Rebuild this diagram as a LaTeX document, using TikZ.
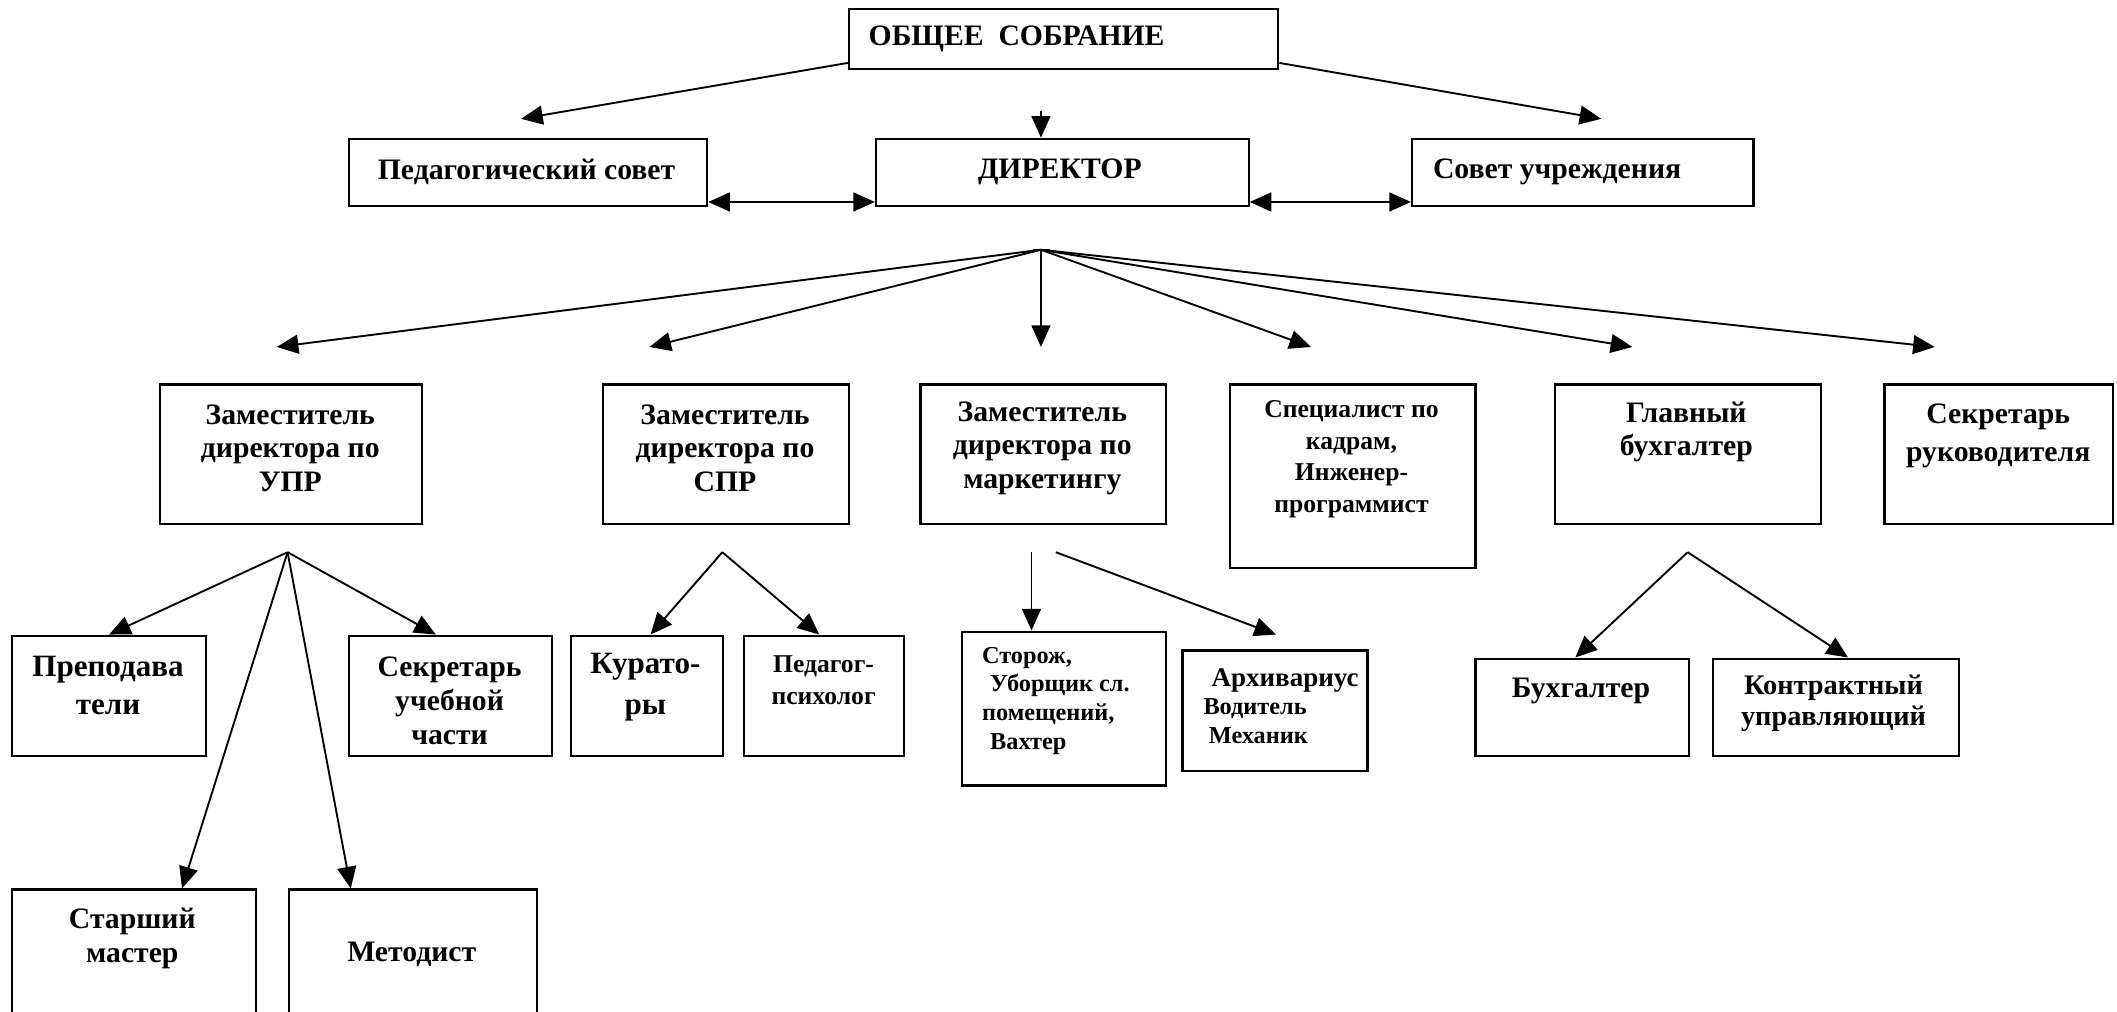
\documentclass[tikz,border=0pt]{standalone}
\usepackage{fontspec}
\setmainfont{Liberation Serif}
\usetikzlibrary{arrows.meta,calc}
\begin{document}
\begin{tikzpicture}[x=0.5pt,y=-0.5pt,
 box/.style={draw, line width=0.8pt, anchor=north west, inner sep=0pt},
 txt/.style={font=\bfseries\fontsize{11}{12.5}\selectfont, align=center, inner sep=0pt},
 smalltxt/.style={font=\bfseries\fontsize{9.5}{11.5}\selectfont, align=center, inner sep=0pt},
 arr/.style={-{Triangle[length=8pt,width=7pt]}, line width=0.7pt},
 darr/.style={{Triangle[length=8pt,width=7pt]}-{Triangle[length=8pt,width=7pt]}, line width=0.7pt}]
\useasboundingbox (0,0) rectangle (1568,749);
\clip (0,0) rectangle (1568,749);
% boxes
\node[box, minimum width=159pt, minimum height=22pt] (sob) at (628,6) {};
\node[box, minimum width=132.5pt, minimum height=25pt] (ped) at (258,102) {};
\node[box, minimum width=138pt, minimum height=25pt] (dir) at (648,102) {};
\node[box, minimum width=126.5pt, minimum height=25pt] (sov) at (1045,102) {};
\node[box, minimum width=97pt, minimum height=51.5pt] (upr) at (118,284) {};
\node[box, minimum width=91pt, minimum height=51.5pt] (spr) at (446,284) {};
\node[box, minimum width=91pt, minimum height=51.5pt] (mkt) at (681,284) {};
\node[box, minimum width=91pt, minimum height=68pt] (spec) at (910,284) {};
\node[box, minimum width=98.5pt, minimum height=51.5pt] (glb) at (1151,284) {};
\node[box, minimum width=84.5pt, minimum height=51.5pt] (sek) at (1395,284) {};
\node[box, minimum width=72pt, minimum height=44.5pt] (prep) at (8,470) {};
\node[box, minimum width=75pt, minimum height=44.5pt] (suc) at (258,470) {};
\node[box, minimum width=56.5pt, minimum height=44.5pt] (kur) at (422,470) {};
\node[box, minimum width=59.5pt, minimum height=44.5pt] (psy) at (550,470) {};
\node[box, minimum width=90.5pt, minimum height=48pt] (sm) at (8,658) {};
\node[box, minimum width=92pt, minimum height=48pt] (met) at (213,658) {};
\node[box, minimum width=75.5pt, minimum height=57pt] (stor) at (712,467) {};
\node[box, minimum width=68.5pt, minimum height=44.5pt] (arh) at (875,481) {};
\node[box, minimum width=79pt, minimum height=36pt] (buh) at (1092,487) {};
\node[box, minimum width=91pt, minimum height=36pt] (kon) at (1268,487) {};
% texts
\node[txt, anchor=west] (sobt) at (643,29) {ОБЩЕЕ\ \ СОБРАНИЕ};
\node[txt] (pedt) at (390,127) {Педагогический совет};
\node[txt] (dirt) at (785,127) {ДИРЕКТОР};
\node[txt, anchor=west] (sovt) at (1061,127) {Совет учреждения};
\node[txt] (uprt) at (215,332) {Заместитель\\директора по\\УПР};
\node[txt] (sprt) at (537,332) {Заместитель\\директора по\\СПР};
\node[txt] (mktt) at (772,332) {Заместитель\\директора по\\маркетингу};
\node[smalltxt, font=\bfseries\fontsize{9.5}{11.7}\selectfont] (spect) at (1001,340) {Специалист по\\кадрам,\\Инженер-\\программист};
\node[txt] (glbt) at (1249,320) {Главный\\бухгалтер};
\node[txt, font=\bfseries\fontsize{11}{14}\selectfont] (sekt) at (1480,323) {Секретарь\\руководителя};
\node[txt, font=\bfseries\fontsize{11.5}{14}\selectfont] (prept) at (80,508) {Преподава\\тели};
\node[txt] (suct) at (333,519) {Секретарь\\учебной\\части};
\node[txt, font=\bfseries\fontsize{11.5}{15}\selectfont] (kurt) at (478,509) {Курато-\\ры};
\node[smalltxt, font=\bfseries\fontsize{9.5}{12}\selectfont] (psyt) at (610,504) {Педагог-\\психолог};
\node[txt] (smt) at (98,695) {Старший\\мастер};
\node[txt] (mett) at (305,707) {Методист};
\node[smalltxt, font=\bfseries\fontsize{9}{10.6}\selectfont, align=left, anchor=west] (stort) at (727,519) {Сторож,\\\hspace{3pt}Уборщик сл.\\помещений,\\\hspace{3pt}Вахтер};
\node[txt, font=\bfseries\fontsize{10}{12}\selectfont, anchor=west] (arht1) at (897,504) {Архивариус};
\node[smalltxt, font=\bfseries\fontsize{9}{11}\selectfont, anchor=west] (arht2) at (891,525) {Водитель};
\node[smalltxt, font=\bfseries\fontsize{9}{11}\selectfont, anchor=west] (arht3) at (895,545) {Механик};
\node[txt] (buht) at (1171,512) {Бухгалтер};
\node[txt, font=\bfseries\fontsize{10.5}{11.5}\selectfont] (kont) at (1358,521) {Контрактный\\управляющий};
% top arrows
\coordinate (pedT) at (386,88);
\coordinate (sovT) at (1186,88);
\coordinate (dirS) at (771,82);
\draw[arr] ([yshift=2.5pt]sob.south west) -- (pedT);
\draw[arr] ([yshift=2.5pt]sob.south east) -- (sovT);
\draw[arr] (dirS) -- (dirS |- dir.north);
\draw[darr] ([yshift=2pt]ped.south east) -- ([yshift=2pt]dir.south west);
\draw[darr] ([yshift=2pt]dir.south east) -- ([yshift=2pt]sov.south west);
% director fan
\coordinate (fan) at (771,185);
\draw[line width=0.7pt] (765,185) -- (778,185);
\foreach \n/\x in {1/205,2/481,3/771,4/971,5/1209,6/1433}{
  \coordinate (d\n) at (\x,257);
  \draw[arr] (fan) -- (d\n);
}
% UPR fan
\coordinate (uf) at (213,409);
\draw[arr] (uf) -- (prep.north);
\draw[arr] (uf) -- ([xshift=-5.5pt]suc.north);
\draw[arr] (uf) -- ([xshift=17.75pt]sm.north);
\draw[arr] (uf) -- ([xshift=-23pt]met.north);
% SPR fan
\coordinate (sf) at (535,409);
\draw[arr] (sf) -- ([xshift=1.25pt]kur.north);
\draw[arr] (sf) -- ([xshift=-1.75pt]psy.north);
% marketing
\coordinate (mf1) at (764,409);
\draw[arr] (mf1) -- (mf1 |- stor.north);
\coordinate (mf2) at (782,409);
\coordinate (mt2) at (945,470);
\draw[arr] (mf2) -- (mt2);
% glavbukh
\coordinate (gf) at (1250,409);
\draw[arr] (gf) -- ([xshift=-2.5pt]buh.north);
\draw[arr] (gf) -- ([xshift=4.5pt]kon.north);
\end{tikzpicture}
\end{document}
